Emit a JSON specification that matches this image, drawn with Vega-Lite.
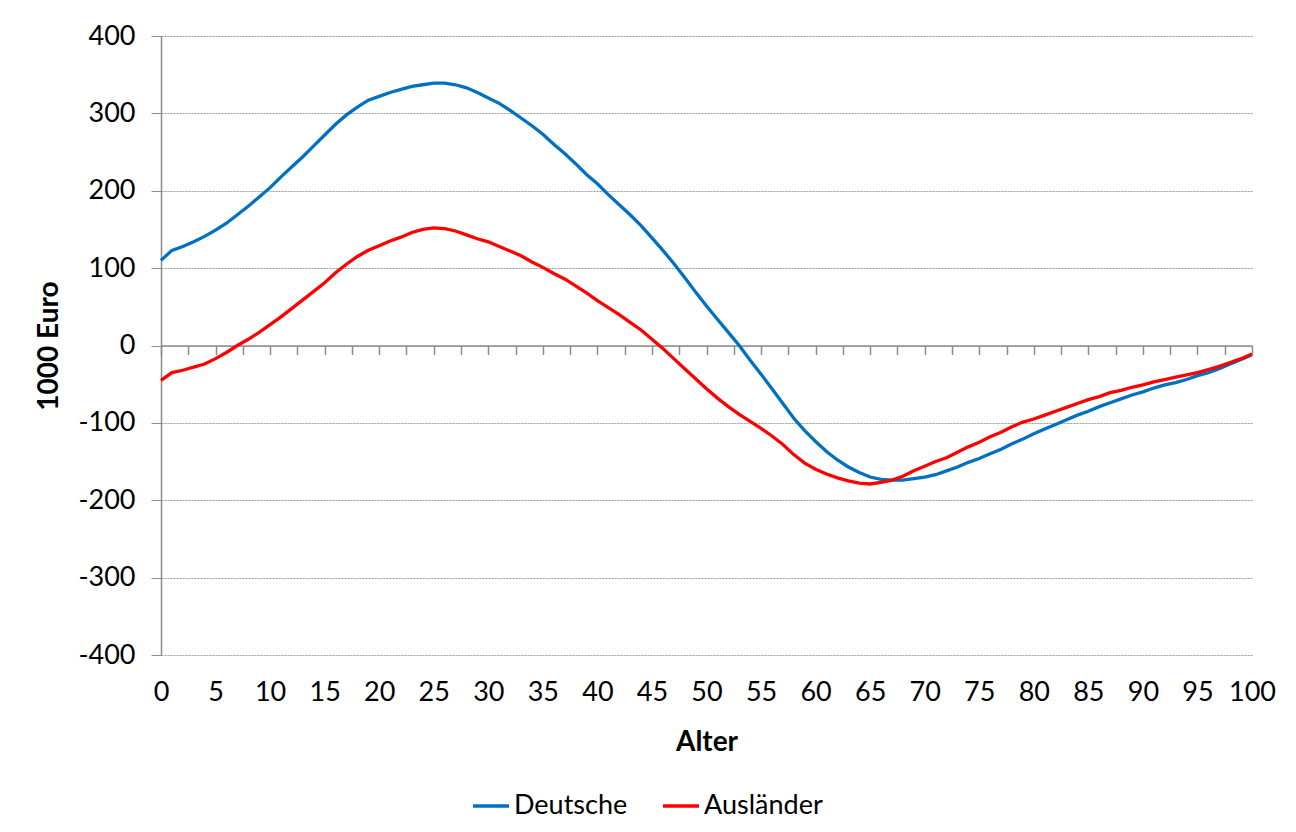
{
  "$schema": "https://vega.github.io/schema/vega-lite/v6.json",
  "autosize": "none",
  "width": 1091,
  "height": 619,
  "padding": {"left": 161, "top": 36, "right": 44, "bottom": 177},
  "background": "white",
  "config": {
    "font": "Lato",
    "view": {"stroke": null},
    "axis": {"labelFont": "Lato", "titleFont": "Lato", "labelColor": "black", "titleColor": "black"}
  },
  "datasets": {
    "d": [
      {"alter":0,"Deutsche":110,"Ausländer":-45},
      {"alter":1,"Deutsche":123,"Ausländer":-35},
      {"alter":2,"Deutsche":128,"Ausländer":-32},
      {"alter":3,"Deutsche":134,"Ausländer":-28},
      {"alter":4,"Deutsche":141,"Ausländer":-24},
      {"alter":5,"Deutsche":149,"Ausländer":-17},
      {"alter":6,"Deutsche":158,"Ausländer":-9},
      {"alter":7,"Deutsche":169,"Ausländer":0},
      {"alter":8,"Deutsche":180,"Ausländer":8},
      {"alter":9,"Deutsche":192,"Ausländer":17},
      {"alter":10,"Deutsche":204,"Ausländer":27},
      {"alter":11,"Deutsche":218,"Ausländer":37},
      {"alter":12,"Deutsche":231,"Ausländer":48},
      {"alter":13,"Deutsche":244,"Ausländer":59},
      {"alter":14,"Deutsche":258,"Ausländer":70},
      {"alter":15,"Deutsche":272,"Ausländer":81},
      {"alter":16,"Deutsche":286,"Ausländer":94},
      {"alter":17,"Deutsche":298,"Ausländer":105},
      {"alter":18,"Deutsche":308,"Ausländer":115},
      {"alter":19,"Deutsche":317,"Ausländer":123},
      {"alter":20,"Deutsche":322,"Ausländer":129},
      {"alter":21,"Deutsche":327,"Ausländer":135},
      {"alter":22,"Deutsche":331,"Ausländer":140},
      {"alter":23,"Deutsche":335,"Ausländer":146},
      {"alter":24,"Deutsche":337,"Ausländer":150},
      {"alter":25,"Deutsche":339,"Ausländer":152},
      {"alter":26,"Deutsche":339,"Ausländer":151},
      {"alter":27,"Deutsche":337,"Ausländer":148},
      {"alter":28,"Deutsche":333,"Ausländer":143},
      {"alter":29,"Deutsche":327,"Ausländer":138},
      {"alter":30,"Deutsche":320,"Ausländer":134},
      {"alter":31,"Deutsche":313,"Ausländer":128},
      {"alter":32,"Deutsche":304,"Ausländer":122},
      {"alter":33,"Deutsche":294,"Ausländer":116},
      {"alter":34,"Deutsche":284,"Ausländer":108},
      {"alter":35,"Deutsche":273,"Ausländer":101},
      {"alter":36,"Deutsche":260,"Ausländer":93},
      {"alter":37,"Deutsche":248,"Ausländer":86},
      {"alter":38,"Deutsche":235,"Ausländer":77},
      {"alter":39,"Deutsche":221,"Ausländer":68},
      {"alter":40,"Deutsche":209,"Ausländer":58},
      {"alter":41,"Deutsche":195,"Ausländer":49},
      {"alter":42,"Deutsche":182,"Ausländer":40},
      {"alter":43,"Deutsche":169,"Ausländer":30},
      {"alter":44,"Deutsche":155,"Ausländer":20},
      {"alter":45,"Deutsche":139,"Ausländer":8},
      {"alter":46,"Deutsche":123,"Ausländer":-4},
      {"alter":47,"Deutsche":106,"Ausländer":-17},
      {"alter":48,"Deutsche":88,"Ausländer":-30},
      {"alter":49,"Deutsche":69,"Ausländer":-43},
      {"alter":50,"Deutsche":51,"Ausländer":-56},
      {"alter":51,"Deutsche":34,"Ausländer":-68},
      {"alter":52,"Deutsche":17,"Ausländer":-79},
      {"alter":53,"Deutsche":0,"Ausländer":-89},
      {"alter":54,"Deutsche":-19,"Ausländer":-98},
      {"alter":55,"Deutsche":-37,"Ausländer":-107},
      {"alter":56,"Deutsche":-56,"Ausländer":-117},
      {"alter":57,"Deutsche":-75,"Ausländer":-128},
      {"alter":58,"Deutsche":-94,"Ausländer":-141},
      {"alter":59,"Deutsche":-110,"Ausländer":-152},
      {"alter":60,"Deutsche":-124,"Ausländer":-160},
      {"alter":61,"Deutsche":-137,"Ausländer":-166},
      {"alter":62,"Deutsche":-148,"Ausländer":-171},
      {"alter":63,"Deutsche":-157,"Ausländer":-175},
      {"alter":64,"Deutsche":-164,"Ausländer":-178},
      {"alter":65,"Deutsche":-170,"Ausländer":-179},
      {"alter":66,"Deutsche":-173,"Ausländer":-177},
      {"alter":67,"Deutsche":-174,"Ausländer":-174},
      {"alter":68,"Deutsche":-174,"Ausländer":-169},
      {"alter":69,"Deutsche":-172,"Ausländer":-162},
      {"alter":70,"Deutsche":-170,"Ausländer":-156},
      {"alter":71,"Deutsche":-167,"Ausländer":-150},
      {"alter":72,"Deutsche":-162,"Ausländer":-145},
      {"alter":73,"Deutsche":-157,"Ausländer":-138},
      {"alter":74,"Deutsche":-151,"Ausländer":-131},
      {"alter":75,"Deutsche":-146,"Ausländer":-125},
      {"alter":76,"Deutsche":-140,"Ausländer":-118},
      {"alter":77,"Deutsche":-134,"Ausländer":-112},
      {"alter":78,"Deutsche":-127,"Ausländer":-105},
      {"alter":79,"Deutsche":-121,"Ausländer":-99},
      {"alter":80,"Deutsche":-114,"Ausländer":-95},
      {"alter":81,"Deutsche":-108,"Ausländer":-90},
      {"alter":82,"Deutsche":-102,"Ausländer":-85},
      {"alter":83,"Deutsche":-96,"Ausländer":-80},
      {"alter":84,"Deutsche":-90,"Ausländer":-75},
      {"alter":85,"Deutsche":-85,"Ausländer":-70},
      {"alter":86,"Deutsche":-79,"Ausländer":-66},
      {"alter":87,"Deutsche":-74,"Ausländer":-61},
      {"alter":88,"Deutsche":-69,"Ausländer":-58},
      {"alter":89,"Deutsche":-64,"Ausländer":-54},
      {"alter":90,"Deutsche":-60,"Ausländer":-51},
      {"alter":91,"Deutsche":-55,"Ausländer":-47},
      {"alter":92,"Deutsche":-51,"Ausländer":-44},
      {"alter":93,"Deutsche":-48,"Ausländer":-41},
      {"alter":94,"Deutsche":-44,"Ausländer":-38},
      {"alter":95,"Deutsche":-39,"Ausländer":-35},
      {"alter":96,"Deutsche":-35,"Ausländer":-31},
      {"alter":97,"Deutsche":-30,"Ausländer":-27},
      {"alter":98,"Deutsche":-24,"Ausländer":-22},
      {"alter":99,"Deutsche":-18,"Ausländer":-17},
      {"alter":100,"Deutsche":-12,"Ausländer":-11}
    ]
  },
  "data": {"name": "d"},
  "transform": [
    {"fold": ["Deutsche", "Ausländer"], "as": ["gruppe", "wert"]}
  ],
  "resolve": {"axis": {"x": "independent"}},
  "layer": [
    {
      "mark": {"type": "line", "strokeWidth": 3.3},
      "encoding": {
        "x": {
          "field": "alter", "type": "quantitative",
          "scale": {"domain": [0, 100], "nice": false},
          "axis": {
            "title": "Alter", "titleFontSize": 28, "titleFontWeight": "bold", "titlePadding": 23,
            "values": [0,5,10,15,20,25,30,35,40,45,50,55,60,65,70,75,80,85,90,95,100],
            "labelFontSize": 27, "labelPadding": 24, "ticks": false, "domain": false, "grid": false,
            "labelFlush": false, "labelOverlap": false
          }
        },
        "y": {
          "field": "wert", "type": "quantitative",
          "scale": {"domain": [-400, 400], "nice": false},
          "axis": {
            "title": "1000 Euro", "titleFontSize": 28, "titleFontWeight": "bold", "titlePadding": 14,
            "values": [-400,-300,-200,-100,0,100,200,300,400],
            "labelExpr": "datum.value < 0 ? '-' + abs(datum.value) : '' + datum.value",
            "labelFontSize": 27, "labelPadding": 16, "tickSize": 10, "tickColor": "#8c8c8c",
            "domainColor": "#8c8c8c", "domainWidth": 1.5,
            "grid": true, "gridColor": "#9a9a9a", "gridDash": [2, 1], "gridWidth": 1
          }
        },
        "color": {
          "field": "gruppe", "type": "nominal",
          "scale": {"domain": ["Deutsche", "Ausländer"], "range": ["#0070C0", "#FF0000"]},
          "legend": {
            "title": null, "orient": "none", "direction": "horizontal",
            "legendX": 310, "legendY": 750,
            "symbolType": "stroke", "symbolSize": 1296, "symbolStrokeWidth": 3.5,
            "labelFontSize": 27, "labelFont": "Lato", "labelColor": "black",
            "columnPadding": 28, "labelOffset": 3
          }
        }
      }
    },
    {
      "mark": {"type": "line", "strokeOpacity": 0},
      "encoding": {
        "x": {
          "field": "alter", "type": "quantitative",
          "axis": {
            "title": null, "labels": false, "grid": false, "orient": "bottom", "offset": -309.5,
            "values": [0,2.5,5,7.5,10,12.5,15,17.5,20,22.5,25,27.5,30,32.5,35,37.5,40,42.5,45,47.5,50,52.5,55,57.5,60,62.5,65,67.5,70,72.5,75,77.5,80,82.5,85,87.5,90,92.5,95,97.5,100],
            "tickSize": 9, "tickColor": "#8c8c8c", "domainColor": "#8c8c8c", "domainWidth": 1.5, "tickWidth": 1.5
          }
        },
        "y": {"field": "wert", "type": "quantitative"},
        "detail": {"field": "gruppe"}
      }
    }
  ]
}
